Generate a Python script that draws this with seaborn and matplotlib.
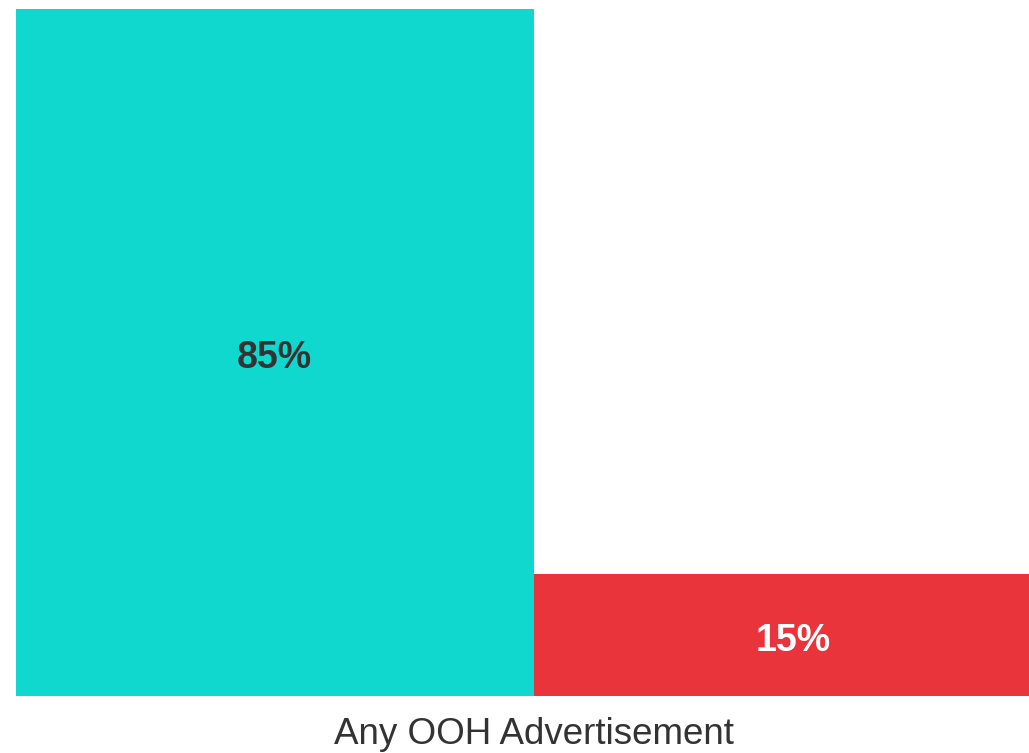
import matplotlib
matplotlib.use("Agg")
import matplotlib.pyplot as plt
import seaborn as sns
import pandas as pd

# Share of respondents for the single question, split into two answers
answers = ["Yes", "No"]
shares = [85, 15]
bar_colors = ["#10D8CF", "#E8343A"]
label_colors = ["#333333", "#FFFFFF"]
axis_title = "Any OOH Advertisement"

sns.set_theme(style="white")
plt.rcParams["font.family"] = ["Liberation Sans", "DejaVu Sans"]

df = pd.DataFrame({"answer": answers, "share": shares})

W, H = 1029, 753
fig = plt.figure(figsize=(W / 100, H / 100), dpi=100)
left_px, right_px, top_px, bottom_px = 15.5, 1052, 8.5, 695.5
ax = fig.add_axes([left_px / W, 1 - bottom_px / H,
                   (right_px - left_px) / W, (bottom_px - top_px) / H])

sns.barplot(data=df, x="answer", y="share", hue="answer",
            palette=bar_colors, width=1.0, legend=False, ax=ax,
            linewidth=0, saturation=1)

ax.set_xlim(-0.5, len(answers) - 0.5)
ax.set_ylim(0, max(shares))
for spine in ax.spines.values():
    spine.set_visible(False)
ax.set_xticks([])
ax.set_yticks([])
ax.set_xlabel("")
ax.set_ylabel("")

for i, (v, c) in enumerate(zip(shares, label_colors)):
    ax.annotate(f"{v}%", xy=(i, v / 2), xytext=(0, -4.3),
                textcoords="offset points", ha="center", va="center",
                fontsize=27, fontweight="bold", color=c)

fig.text(534 / W, 1 - 735 / H, axis_title, ha="center", va="center",
         fontsize=26.5, color="#333333")

fig.savefig("out.png", dpi=100)
